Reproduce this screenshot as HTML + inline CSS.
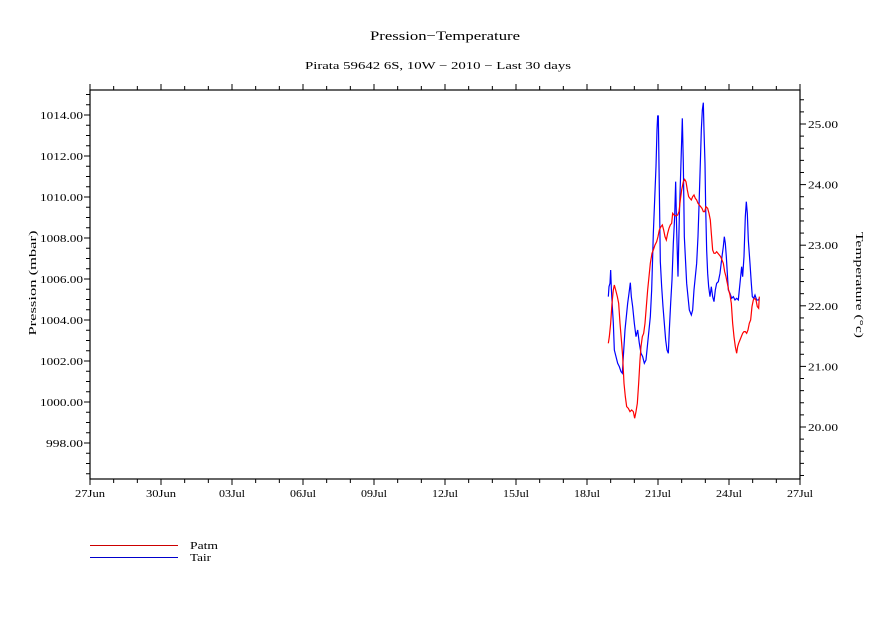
<!DOCTYPE html>
<html><head><meta charset="utf-8"><style>
html,body{margin:0;padding:0;background:#fff;}
svg{display:block;font-family:"Liberation Serif",serif;}
</style></head><body>
<svg id="s" width="891" height="630" xmlns="http://www.w3.org/2000/svg">
<rect width="891" height="630" fill="#fff"/>
<text x="445" y="40" font-size="13" text-anchor="middle" textLength="150" lengthAdjust="spacingAndGlyphs">Pression−Temperature</text>
<text x="438" y="69" font-size="11" text-anchor="middle" textLength="266" lengthAdjust="spacingAndGlyphs">Pirata 59642 6S, 10W − 2010 − Last 30 days</text>
<rect x="90" y="90" width="710" height="389" fill="none" stroke="#000" stroke-width="1.2"/>
<g id="ticks" stroke="#000" stroke-width="1"></g>
<g id="labels" font-size="10.5"></g>
<text transform="translate(36,283) rotate(-90)" font-size="11" text-anchor="middle" textLength="105" lengthAdjust="spacingAndGlyphs">Pression (mbar)</text>
<text transform="translate(856,285) rotate(90)" font-size="11" text-anchor="middle" textLength="106" lengthAdjust="spacingAndGlyphs">Temperature (°c)</text>
<g transform="translate(590,90) scale(0.3333)" fill="none" stroke-width="1.2">
<polyline vector-effect="non-scaling-stroke" stroke="#0000ff" points="55,620 57,590 60,580 62,540 64,595 67,650 70,700 73,780 78,800 83,820 88,830 93,845 97,850 100,800 105,720 110,670 113,640 117,610 121,578 124,620 128,650 133,700 138,740 143,720 148,760 153,790 158,800 163,820 168,810 173,760 177,720 181,680 185,600 188,500 190,430 194,330 198,230 201,120 203,78 205,78 208,300 211,515 215,590 219,650 223,700 227,750 231,780 235,790 238,720 242,640 246,570 250,460 254,380 257,275 260,420 264,560 268,380 272,250 277,85 280,220 283,440 287,520 290,580 294,620 298,660 304,675 308,660 312,600 316,560 320,520 324,440 327,350 331,220 334,120 337,60 340,38 342,120 345,220 347,350 350,480 353,550 356,590 360,620 364,590 368,620 372,635 376,600 380,580 385,575 390,550 396,500 400,470 403,440 406,460 409,500 412,550 415,600 420,610 425,625 430,620 435,630 440,625 445,630 450,580 455,530 458,560 462,500 466,380 469,335 472,370 475,450 480,520 484,580 487,620 491,625 495,615 500,630 505,630 508,625"/>
<polyline vector-effect="non-scaling-stroke" stroke="#ff0000" points="55,760 58,740 62,700 66,640 70,600 73,585 77,600 82,620 86,640 90,700 95,760 98,800 102,880 106,920 110,950 115,955 120,965 125,960 130,965 134,985 138,965 142,940 146,880 150,810 153,770 157,740 161,730 165,700 169,650 173,600 177,560 181,520 186,490 190,480 195,465 200,455 204,440 208,420 213,410 217,405 221,420 225,440 229,450 233,430 237,415 241,405 245,400 248,370 252,375 258,378 263,375 267,365 271,330 275,300 280,275 284,268 288,275 292,300 296,320 300,325 304,330 308,320 312,315 316,325 320,330 324,340 328,345 332,350 336,355 340,365 344,365 348,350 353,355 357,370 361,390 364,430 368,480 372,490 376,490 380,485 384,490 388,495 392,500 396,510 400,520 404,545 408,560 412,580 416,600 420,615 424,640 428,700 432,740 436,770 440,790 443,770 446,760 450,750 454,740 458,730 462,725 466,725 470,730 474,720 478,700 482,690 486,650 490,630 494,625 498,630 502,650 506,655 508,620"/>
</g>
<line x1="90" y1="545.5" x2="178" y2="545.5" stroke="#cc0000" stroke-width="1"/>
<line x1="90" y1="557.5" x2="178" y2="557.5" stroke="#0000cc" stroke-width="1"/>
<text x="190" y="549" font-size="10.5" textLength="28" lengthAdjust="spacingAndGlyphs">Patm</text>
<text x="190" y="561" font-size="10.5" textLength="21" lengthAdjust="spacingAndGlyphs">Tair</text>
</svg>
<script>
var t=document.getElementById('ticks'),L=document.getElementById('labels');
function ln(a,b,c,d){var e=document.createElementNS('http://www.w3.org/2000/svg','line');e.setAttribute('x1',a);e.setAttribute('y1',b);e.setAttribute('x2',c);e.setAttribute('y2',d);t.appendChild(e);}
function tx(x,y,s,anc,w){var e=document.createElementNS('http://www.w3.org/2000/svg','text');e.setAttribute('x',x);e.setAttribute('y',y);if(anc)e.setAttribute('text-anchor',anc);if(w){e.setAttribute('textLength',w);e.setAttribute('lengthAdjust','spacingAndGlyphs');}e.textContent=s;L.appendChild(e);}
var dl=['27Jun','30Jun','03Jul','06Jul','09Jul','12Jul','15Jul','18Jul','21Jul','24Jul','27Jul'];
for(var d=0;d<=30;d++){var x=90+d*710/30;var m=d%3==0;ln(x,90,x,90-(m?6:4));ln(x,479,x,479+(m?6:4));if(m)tx(x,497,dl[d/3],'middle',dl[d/3].indexOf('Jun')>0?30:26);}
for(var p=996.5;p<=1015.2;p+=0.5){var y=115+(1014-p)*20.5;var m=Math.abs(p%2)<0.01;ln(90,y,90-(m?6:4),y);if(m){var s=p.toFixed(2);tx(83,y+4,s,'end',s.length==7?43:37);}}
for(var c=19.2;c<=25.6;c+=0.2){var y=124+(25-c)*60.6;if(y<90||y>479)continue;var m=Math.abs(c-Math.round(c))<0.01;ln(800,y,800+(m?6:4),y);if(m)tx(808,y+4,c.toFixed(2),null,30);}
</script>
</body></html>
